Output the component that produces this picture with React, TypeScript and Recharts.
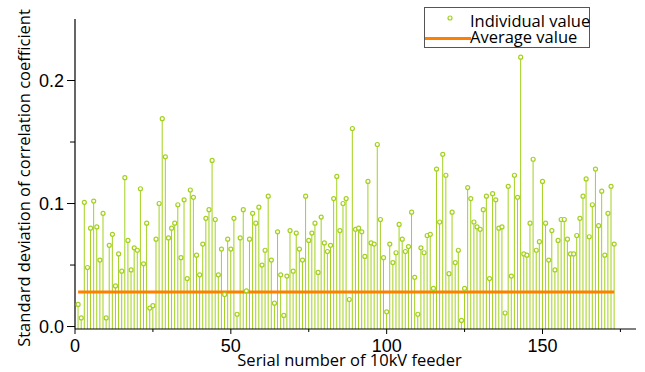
import React from "react";
import { ComposedChart, Bar, Line, XAxis, YAxis, Legend, Label } from "recharts";

// standard deviation of the correlation coefficient, feeders 1..173
const values = [
  0.018, 0.007, 0.101, 0.048, 0.08, 0.102, 0.081, 0.054, 0.092, 0.007,
  0.066, 0.075, 0.033, 0.059, 0.045, 0.121, 0.07, 0.046, 0.064, 0.062,
  0.112, 0.051, 0.084, 0.015, 0.017, 0.071, 0.1, 0.169, 0.138, 0.072,
  0.08, 0.084, 0.099, 0.056, 0.103, 0.039, 0.111, 0.105, 0.058, 0.042,
  0.067, 0.088, 0.095, 0.135, 0.087, 0.042, 0.063, 0.026, 0.071, 0.063,
  0.088, 0.01, 0.072, 0.095, 0.029, 0.071, 0.092, 0.084, 0.097, 0.05,
  0.062, 0.106, 0.054, 0.019, 0.077, 0.042, 0.009, 0.041, 0.078, 0.045,
  0.076, 0.063, 0.054, 0.106, 0.07, 0.076, 0.084, 0.044, 0.089, 0.068,
  0.061, 0.066, 0.104, 0.122, 0.078, 0.1, 0.104, 0.022, 0.161, 0.079,
  0.08, 0.077, 0.057, 0.118, 0.068, 0.067, 0.148, 0.087, 0.056, 0.012,
  0.067, 0.052, 0.06, 0.083, 0.071, 0.061, 0.065, 0.093, 0.04, 0.01,
  0.064, 0.06, 0.074, 0.075, 0.031, 0.128, 0.085, 0.14, 0.123, 0.043,
  0.093, 0.052, 0.062, 0.005, 0.031, 0.113, 0.104, 0.085, 0.081, 0.079,
  0.095, 0.106, 0.039, 0.108, 0.103, 0.08, 0.081, 0.011, 0.114, 0.041,
  0.123, 0.105, 0.219, 0.059, 0.058, 0.084, 0.136, 0.062, 0.069, 0.118,
  0.084, 0.054, 0.078, 0.046, 0.07, 0.087, 0.087, 0.071, 0.059, 0.059,
  0.074, 0.088, 0.106, 0.12, 0.073, 0.099, 0.128, 0.082, 0.11, 0.058,
  0.092, 0.114, 0.067,
];
const average = 0.028;

const xTicks = [0, 25, 50, 75, 100, 125, 150, 175];
const yTicks = [0, 0.05, 0.1, 0.15, 0.2];
const yMin = -0.002;

const data = values.map((v, i) => ({ serial: i + 1, v, stem: [yMin, v], avg: average }));

const STEM = "#a3d11e";
const ORANGE = "#ff8000";
const TITLE_FONT = "'Open Sans', sans-serif";
const TICK_FONT = "'Liberation Sans', Arial, sans-serif";

function YTick({ x, y, payload }: any) {
  const major = Math.abs(payload.value * 10 - Math.round(payload.value * 10)) < 1e-6;
  const ax = x + 11;
  return (
    <g>
      <line x1={ax - (major ? 8 : 5)} x2={ax} y1={y} y2={y} stroke="#000" />
      {major && (
        <text x={x} y={y} dy={6.5} textAnchor="end" fontSize={18} fontFamily={TICK_FONT} fill="#000">
          {payload.value.toFixed(1)}
        </text>
      )}
    </g>
  );
}

function XTick({ x, y, payload }: any) {
  const major = payload.value % 50 === 0;
  const ay = y - 11;
  return (
    <g>
      <line x1={x} x2={x} y1={ay} y2={ay + (major ? 5 : 3)} stroke="#000" />
      {major && (
        <text x={x} y={ay + 23} textAnchor="middle" fontSize={18} fontFamily={TICK_FONT} fill="#000">
          {payload.value}
        </text>
      )}
    </g>
  );
}

function LegendBox() {
  const row = { position: "absolute" as const, left: 45, lineHeight: "15px", height: 15, whiteSpace: "nowrap" as const };
  return (
    <div
      style={{
        position: "relative",
        width: 166,
        height: 41,
        border: "1px solid #555",
        background: "#fff",
        fontFamily: TITLE_FONT,
        fontSize: 16.5,
        color: "#000",
        boxSizing: "border-box",
      }}
    >
      <svg width={46} height={39} style={{ position: "absolute", left: 0, top: 0 }}>
        <circle cx={25} cy={10} r={2} fill="#fff" stroke={STEM} strokeWidth={1.2} />
        <line x1={0} x2={46} y1={30.5} y2={30.5} stroke={ORANGE} strokeWidth={3} />
      </svg>
      <div style={{ ...row, top: 5 }}>Individual value</div>
      <div style={{ ...row, top: 21 }}>Average value</div>
    </div>
  );
}

export default function App() {
  return (
    <div style={{ position: "absolute", left: 0, top: 0, width: 645, height: 372, background: "#fff" }}>
      <ComposedChart width={645} height={372} data={data} margin={{ top: 19, right: 9, bottom: 0, left: 0 }}>
        <XAxis
          dataKey="serial"
          type="number"
          domain={[0, 180]}
          ticks={xTicks}
          interval={0}
          height={43}
          tickSize={5}
          tickMargin={6}
          tickLine={false}
          tick={<XTick />}
          axisLine={{ stroke: "#000", strokeWidth: 1.2 }}
          allowDataOverflow
        >
          <Label
            value="Serial number of 10kV feeder"
            position="insideBottom"
            offset={6}
            dx={-6}
            style={{ fontFamily: TITLE_FONT, fontSize: 16.5, fill: "#000" }}
          />
        </XAxis>
        <YAxis
          type="number"
          domain={[yMin, 0.25]}
          ticks={yTicks}
          interval={0}
          width={75}
          tickSize={8}
          tickMargin={3}
          tickLine={false}
          tick={<YTick />}
          axisLine={{ stroke: "#000", strokeWidth: 1.2 }}
          allowDataOverflow
        >
          <Label
            content={() => (
              <text
                transform="translate(30,178) rotate(-90)"
                textAnchor="middle"
                fontFamily={TITLE_FONT}
                fontSize={16.5}
                fill="#000"
              >
                Standard deviation of correlation coefficient
              </text>
            )}
          />
        </YAxis>
        <Legend
          layout="vertical"
          align="center"
          verticalAlign="middle"
          content={() => <LegendBox />}
          wrapperStyle={{ position: "absolute", left: 424, top: 7, width: 166, height: 41 }}
        />
        <Bar dataKey="stem" barSize={1} fill={STEM} isAnimationActive={false} legendType="none" />
        <Line
          dataKey="v"
          stroke="none"
          dot={{ r: 2, fill: "#fff", stroke: STEM, strokeWidth: 1.2 }}
          activeDot={false}
          isAnimationActive={false}
        />
        <Line dataKey="avg" stroke={ORANGE} strokeWidth={3} dot={false} activeDot={false} isAnimationActive={false} />
      </ComposedChart>
    </div>
  );
}
